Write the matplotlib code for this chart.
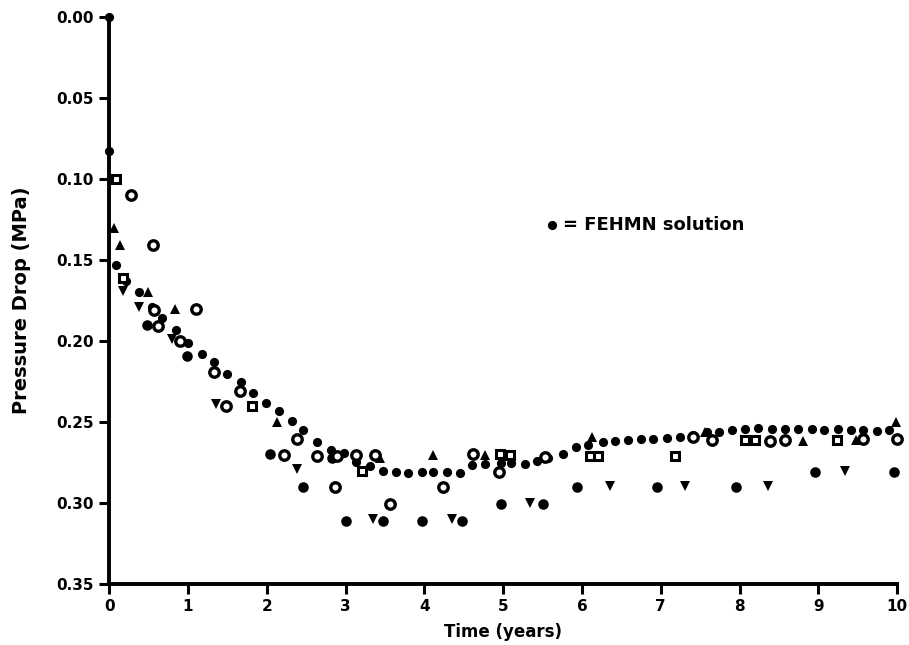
import matplotlib
matplotlib.use("Agg")
import matplotlib.pyplot as plt

# FEHMN solution (small filled dots)
fehmn_x = [0, 0, 0.09, 0.22, 0.38, 0.55, 0.67, 0.85, 1.0, 1.18, 1.33, 1.5, 1.67, 1.83, 1.99,
           2.16, 2.32, 2.46, 2.64, 2.82, 2.98, 3.13, 3.31, 3.48, 3.64, 3.79, 3.97, 4.11, 4.29,
           4.45, 4.61, 4.77, 4.97, 5.1, 5.28, 5.43, 5.57, 5.76, 5.93, 6.08, 6.27, 6.42, 6.59,
           6.75, 6.9, 7.08, 7.25, 7.41, 7.59, 7.74, 7.9, 8.07, 8.24, 8.41, 8.58, 8.74, 8.92,
           9.07, 9.25, 9.42, 9.57, 9.75, 9.9]
fehmn_y = [0.000, 0.083, 0.153, 0.163, 0.170, 0.179, 0.1855, 0.193, 0.201, 0.208, 0.213, 0.2206,
           0.2255, 0.232, 0.238, 0.2434, 0.2496, 0.255, 0.2625, 0.267, 0.269, 0.275, 0.277, 0.280,
           0.281, 0.2816, 0.281, 0.281, 0.281, 0.2816, 0.2767, 0.276, 0.2755, 0.2755, 0.276,
           0.274, 0.272, 0.270, 0.2656, 0.264, 0.2625, 0.262, 0.261, 0.2606, 0.2606, 0.260,
           0.2594, 0.258, 0.2563, 0.2563, 0.255, 0.2545, 0.254, 0.2545, 0.2545, 0.2545, 0.2545,
           0.255, 0.2545, 0.255, 0.255, 0.2555, 0.255]

# other filled dots
dot_x = [0.48, 0.99, 2.04, 2.46, 2.83, 3.0, 3.48, 3.97, 4.48, 4.97, 5.51, 5.94, 6.95, 7.95, 8.96, 9.96]
dot_y = [0.190, 0.2095, 0.270, 0.290, 0.272, 0.311, 0.311, 0.311, 0.311, 0.3007, 0.3007, 0.290,
         0.290, 0.290, 0.281, 0.281]

# inverted triangles
tdn_x = [0.18, 0.38, 0.80, 1.36, 2.38, 3.35, 4.35, 5.34, 6.35, 7.31, 8.36, 9.34]
tdn_y = [0.169, 0.179, 0.199, 0.239, 0.279, 0.310, 0.310, 0.300, 0.2896, 0.2896, 0.2896, 0.280]

# open circles
oc_x = [0.28, 0.56, 0.57, 1.10, 0.62, 0.90, 1.33, 1.48, 1.66, 2.22, 2.38, 2.64, 2.89, 3.13, 3.38,
        2.87, 3.57, 4.24, 4.62, 4.95, 5.53, 7.41, 7.65, 8.39, 8.58, 9.56, 10.0]
oc_y = [0.110, 0.1405, 0.1806, 0.180, 0.191, 0.200, 0.219, 0.240, 0.231, 0.2705, 0.2606, 0.271,
        0.271, 0.2705, 0.2705, 0.290, 0.3007, 0.290, 0.270, 0.281, 0.2717, 0.259, 0.261, 0.2619,
        0.261, 0.2606, 0.2606]

# open squares
sq_x = [0.09, 0.18, 1.81, 3.21, 4.96, 5.09, 6.10, 6.20, 7.18, 8.07, 8.20, 9.24]
sq_y = [0.100, 0.161, 0.240, 0.280, 0.270, 0.2705, 0.271, 0.271, 0.271, 0.261, 0.261, 0.261]

# upward triangles
tup_x = [0.06, 0.14, 0.50, 0.84, 2.13, 3.44, 4.11, 4.77, 6.13, 7.56, 8.81, 9.48, 9.99]
tup_y = [0.130, 0.1405, 0.170, 0.180, 0.250, 0.272, 0.2705, 0.2705, 0.259, 0.256, 0.262, 0.261, 0.250]

x_ticks = [0, 1, 2, 3, 4, 5, 6, 7, 8, 9, 10]
y_ticks = [0.00, 0.05, 0.10, 0.15, 0.20, 0.25, 0.30, 0.35]

fig = plt.figure(figsize=(9.09, 6.45), dpi=100)
ax = fig.add_axes([0.12, 0.0946, 0.867, 0.879])

ax.plot(fehmn_x, fehmn_y, 'o', color='black', ms=6.6, mew=0, clip_on=False, zorder=3)
ax.plot(dot_x, dot_y, 'o', color='black', ms=7.6, mew=0, clip_on=False, zorder=3)
ax.plot(tdn_x, tdn_y, 'v', color='black', ms=7.5, mew=0, clip_on=False, zorder=3)
ax.plot(tup_x, tup_y, '^', color='black', ms=7.5, mew=0, clip_on=False, zorder=3)
ax.plot(oc_x, oc_y, 'o', mfc='white', mec='black', ms=6.8, mew=2.4, clip_on=False, zorder=4)
ax.plot(sq_x, sq_y, 's', mfc='white', mec='black', ms=6.3, mew=2.2, clip_on=False, zorder=4)

ax.set_xlim(0, 10)
ax.set_ylim(0.35, 0.0)
ax.set_xticks(x_ticks)
ax.set_yticks(y_ticks)
ax.set_xticklabels([str(v) for v in x_ticks], fontweight='bold', fontsize=11)
ax.set_yticklabels(['%.2f' % v for v in y_ticks], fontweight='bold', fontsize=11)
for s in ['top', 'right']:
    ax.spines[s].set_visible(False)
for s in ['left', 'bottom']:
    ax.spines[s].set_linewidth(2.8)
ax.tick_params(axis='both', width=2.2, length=7, direction='out', pad=4)

ax.set_xlabel('Time (years)', fontweight='bold', fontsize=12, labelpad=6)
ax.set_ylabel('Pressure Drop (MPa)', fontweight='bold', fontsize=14, labelpad=18)

ax.plot([0.562], [0.633], 'o', color='black', ms=6.6, mew=0, transform=ax.transAxes, clip_on=False)
ax.text(0.576, 0.633, '= FEHMN solution', transform=ax.transAxes, fontsize=13,
        fontweight='bold', va='center', ha='left')

fig.savefig('out.png', dpi=100)
